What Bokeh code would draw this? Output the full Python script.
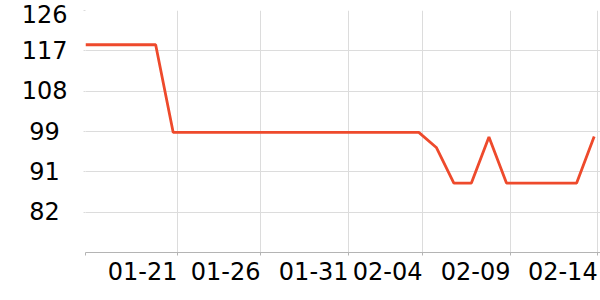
from bokeh.plotting import figure
from bokeh.models import Range1d, FixedTicker, ColumnDataSource
from bokeh.embed import file_html
from bokeh.resources import INLINE

# ---- data ----
dates = ["01-16", "01-17", "01-18", "01-19", "01-20", "01-21", "01-22", "01-23",
         "01-24", "01-25", "01-26", "01-27", "01-28", "01-29", "01-30", "01-31",
         "02-01", "02-02", "02-03", "02-04", "02-05", "02-06", "02-07", "02-08",
         "02-09", "02-10", "02-11", "02-12", "02-13", "02-14"]
values = [118.5, 118.5, 118.5, 118.5, 118.5,
          99.3, 99.3, 99.3, 99.3, 99.3, 99.3, 99.3, 99.3, 99.3, 99.3,
          99.3, 99.3, 99.3, 99.3, 99.3,
          96.0, 88.2, 88.2, 98.3, 88.2, 88.2, 88.2, 88.2, 88.2, 98.4]

x_tick_pos = [0, 5.25, 9.98, 15.0, 19.21, 24.23, 29.2]
x_tick_labels = ["", "01-21", "01-26", "01-31", "02-04", "02-09", "02-14"]
y_tick_pos = [73, 81.83, 90.67, 99.5, 108.33, 117.17, 126]
y_tick_labels = ["", "82", "91", "99", "108", "117", "126"]

FONT = "DejaVu Sans"
FS = "24px"

W, H = 600, 300
LEFT, RIGHT, TOP, BOTTOM = 85, 0, 10, 48
X0, X1 = 0, 29.36

src = ColumnDataSource(dict(x=list(range(len(values))), y=values, date=dates))

p = figure(width=W, height=H, output_backend="svg", toolbar_location=None,
           x_range=Range1d(X0, X1), y_range=Range1d(73, 126),
           min_border_left=LEFT, min_border_right=RIGHT, min_border_top=TOP,
           min_border_bottom=BOTTOM)
p.outline_line_color = None
p.background_fill_color = "white"
p.border_fill_color = "white"

p.line("x", "y", source=src, line_color="#ee4a2c", line_width=2.8)

# x axis: tick marks at the true tick positions (drawn as minor ticks),
# labels placed so that their right edge sits at the tick
px_per_unit = (W - LEFT - RIGHT) / (X1 - X0)
half_label_px = 34.9
lab = [(t - half_label_px / px_per_unit, l) for t, l in zip(x_tick_pos, x_tick_labels) if l]
label_pos = [a for a, _ in lab]

xax = p.xaxis[0]
xax.ticker = FixedTicker(ticks=label_pos, minor_ticks=x_tick_pos)
xax.major_label_overrides = {a: l for a, l in lab}
xax.major_tick_line_color = None
xax.major_tick_in = 0
xax.major_tick_out = 3
xax.minor_tick_line_color = "#b4b4b4"
xax.minor_tick_in = 0
xax.minor_tick_out = 3
xax.axis_line_color = "#b4b4b4"
xax.major_label_standoff = 6
xax.major_label_text_font = FONT
xax.major_label_text_font_size = FS
xax.major_label_text_color = "black"

# y axis
y_lab = [(t, l) for t, l in zip(y_tick_pos, y_tick_labels) if l]
yax = p.yaxis[0]
yax.ticker = FixedTicker(ticks=[t for t, _ in y_lab])
yax.major_label_overrides = {t: (l if len(l) != 2 else l + "\u00a0") for t, l in y_lab}
yax.minor_tick_line_color = None
yax.axis_line_color = None
yax.major_tick_line_color = "#dcdcdc"
yax.major_tick_in = 0
yax.major_tick_out = 2
yax.major_label_standoff = 16
yax.major_label_text_font = FONT
yax.major_label_text_font_size = FS
yax.major_label_text_color = "black"

p.xgrid.grid_line_color = "#dcdcdc"
p.ygrid.grid_line_color = "#dcdcdc"
p.xgrid.ticker = FixedTicker(ticks=x_tick_pos)
p.ygrid.ticker = FixedTicker(ticks=y_tick_pos)

open("out.html", "w").write(file_html(p, INLINE))
